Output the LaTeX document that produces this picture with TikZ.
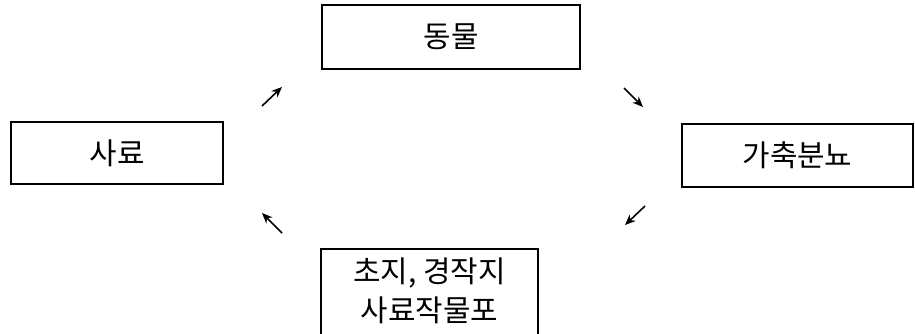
\documentclass[tikz,border=0pt]{standalone}
\usepackage{fontspec}
\newfontfamily\kr{Noto Sans CJK KR}
\usetikzlibrary{arrows.meta}
\tikzstyle{box}=[rectangle,draw=black,line width=0.9pt,inner sep=0pt,font=\kr\fontsize{17}{22}\selectfont]
\tikzstyle{flow}=[line width=0.9pt,-{Stealth[length=6pt,width=5pt]}]

\begin{document}
\begin{tikzpicture}[x=0.02cm,y=-0.02cm]
	\useasboundingbox (0,0) rectangle (915,334);
	\node (animal) at (451,37) [box,minimum width=5.16cm,minimum height=1.28cm] {동물};
	\node (feed) at (117,153) [box,minimum width=4.24cm,minimum height=1.24cm] {사료};
	\node (manure) at (797.5,155.5) [box,minimum width=4.62cm,minimum height=1.26cm] {가축분뇨};
	\node (field) at (429.5,291) [box,draw=none,align=center,minimum width=4.3cm,minimum height=1.64cm] {초지, 경작지\\사료작물포};
	\draw[line width=0.9pt] ([yshift=-1cm]field.south west) |- (field.north east) -- ([yshift=-1cm]field.south east);
	% small arrows between the boxes
	\foreach \n/\x/\y in {a/262/106,b/282/87,c/624/88,d/643/107,e/645/206,f/625/225,g/282/233,h/262/213}
		\coordinate (\n) at (\x,\y);
	\foreach \s/\t in {a/b,c/d,e/f,g/h}
		\draw[flow] (\s)--(\t);
\end{tikzpicture}
\end{document}
